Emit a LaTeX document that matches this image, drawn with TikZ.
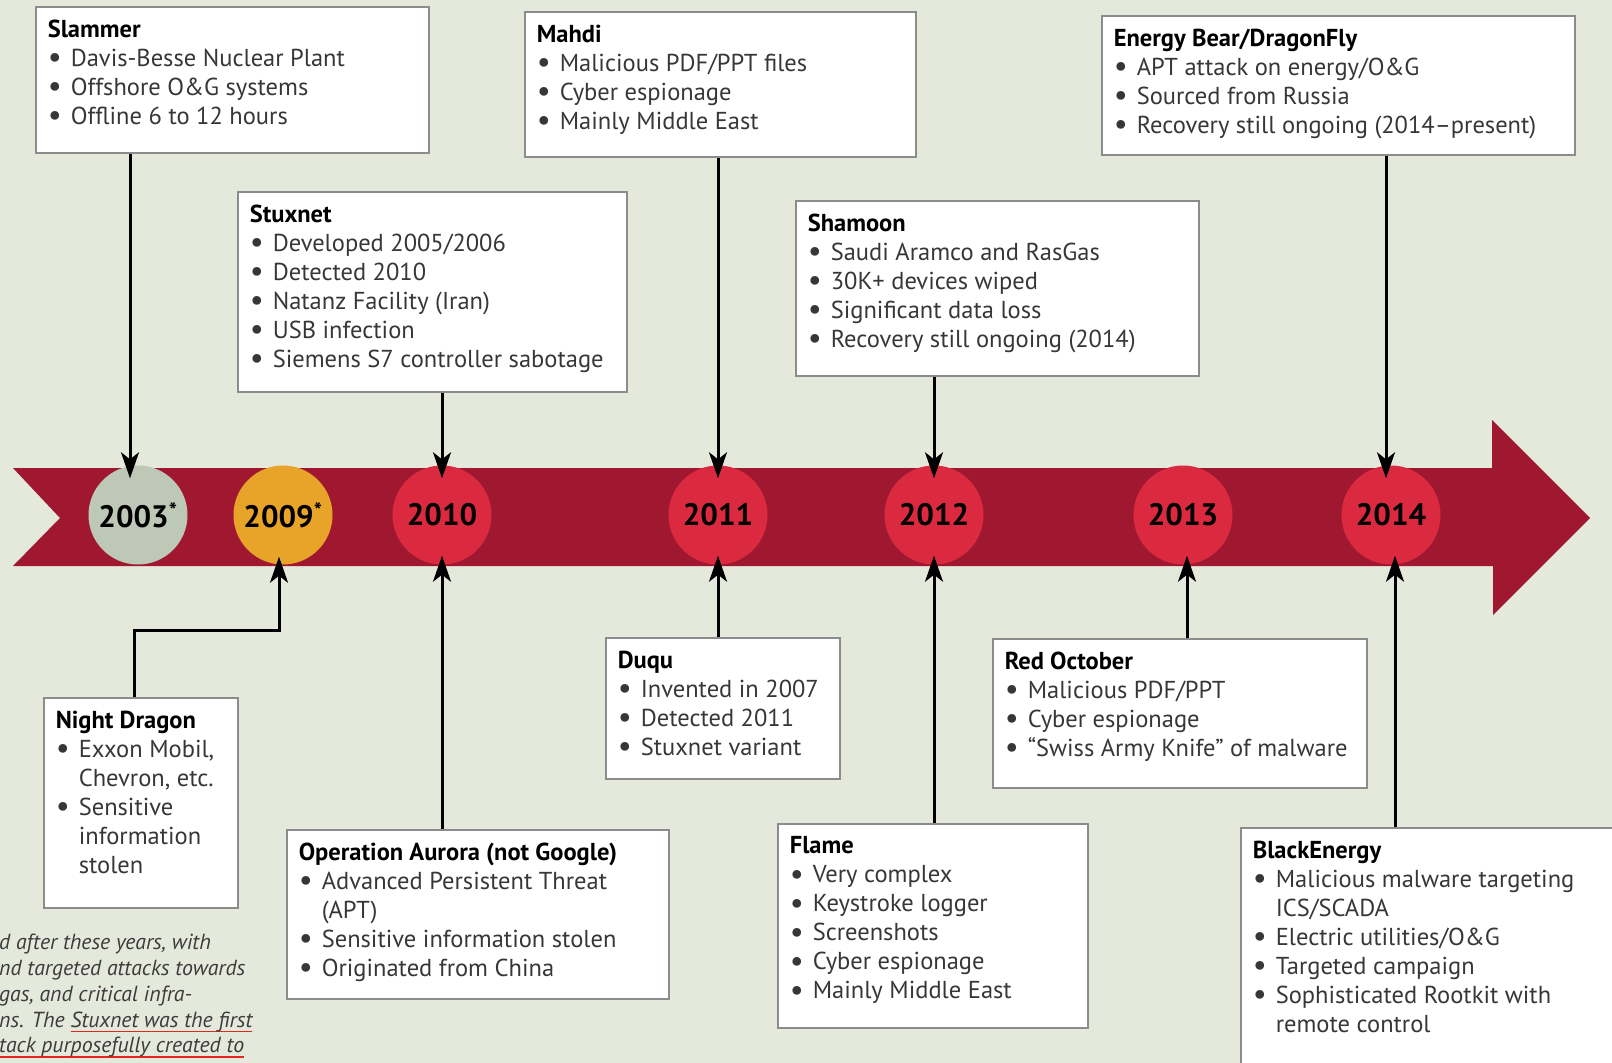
\documentclass[tikz,border=0pt]{standalone}
\usepackage{fontspec}
\setmainfont{PT Sans}
\usetikzlibrary{arrows.meta}

\newcommand{\evtext}[3]{\parbox[c][#2][t]{#1}{\raggedright\fontsize{24.5}{29}\selectfont #3}}
\newcommand{\evtitle}[1]{\noindent{\bfseries\color{black}#1}\par}
\newcommand{\bul}[1]{\noindent\hangindent=23pt\hangafter=1\makebox[23pt][l]{\raisebox{-1.5pt}{\fontsize{31}{29}\selectfont\textbullet}}#1\par}
\newcommand{\redul}[1]{\setbox0\hbox{#1}\rlap{\color{rgb, 255:red, 228; green, 38; blue, 30}\rule[-5pt]{\wd0}{1.6pt}}\box0}

\begin{document}
\begin{tikzpicture}[x=1pt,y=1pt,yscale=-1,xscale=1,
  evbox/.style={draw={rgb, 255:red, 140; green, 140; blue, 140}, line width=1.6pt, fill=white, anchor=north west, inner xsep=12pt, inner ysep=13pt, text={rgb, 255:red, 55; green, 55; blue, 55}},
  year/.style={circle, minimum size=99pt, inner sep=0pt, text=black, font=\fontsize{31}{31}\selectfont\bfseries},
  arr/.style={line width=3pt, -{Stealth[length=26pt,width=18pt,inset=7pt]}}]
\clip (0,0) rectangle (1612,1063);
\fill[color={rgb, 255:red, 229; green, 233; blue, 220}] (0,0) rectangle (1612,1063);

%Shape: Timeline Arrow
\fill[color={rgb, 255:red, 160; green, 24; blue, 48}] (13,468) -- (1492,468) -- (1492,420) -- (1590,518) -- (1493,615) -- (1493,566) -- (13,566) -- (60,518) -- cycle;

%Shape: Circle
\node[year, fill={rgb, 255:red, 190; green, 200; blue, 183}] (y2003) at (138,515) {2003\textsuperscript{*}};
\node[year, fill={rgb, 255:red, 232; green, 164; blue, 40}] (y2009) at (283,515) {2009\textsuperscript{*}};
\node[year, fill={rgb, 255:red, 219; green, 42; blue, 63}] (y2010) at (442,515) {2010};
\node[year, fill={rgb, 255:red, 219; green, 42; blue, 63}] (y2011) at (718,515) {2011};
\node[year, fill={rgb, 255:red, 219; green, 42; blue, 63}] (y2012) at (934,515) {2012};
\node[year, fill={rgb, 255:red, 219; green, 42; blue, 63}] (y2013) at (1183,515) {2013};
\node[year, fill={rgb, 255:red, 219; green, 42; blue, 63}] (y2014) at (1391,515) {2014};

% Text Node
\node[evbox] (slammer) at (35,6) {\evtext{369pt}{120pt}{\evtitle{Slammer}\bul{Davis-Besse Nuclear Plant}\bul{Offshore O\&G systems}\bul{Offline 6 to 12 hours}}};
% Text Node
\node[evbox] (stuxnet) at (237,191) {\evtext{365pt}{174pt}{\evtitle{Stuxnet}\bul{Developed 2005/2006}\bul{Detected 2010}\bul{Natanz Facility (Iran)}\bul{USB infection}\bul{Siemens S7 controller sabotage}}};
% Text Node
\node[evbox] (mahdi) at (524,11) {\evtext{367pt}{119pt}{\evtitle{Mahdi}\bul{Malicious PDF/PPT files}\bul{Cyber espionage}\bul{Mainly Middle East}}};
% Text Node
\node[evbox] (shamoon) at (795,200) {\evtext{379pt}{149pt}{\evtitle{Shamoon}\bul{Saudi Aramco and RasGas}\bul{30K+ devices wiped}\bul{Significant data loss}\bul{Recovery still ongoing (2014)}}};
% Text Node
\node[evbox] (energybear) at (1101,15) {\evtext{449pt}{113pt}{\evtitle{Energy Bear/DragonFly}\bul{APT attack on energy/O\&G}\bul{Sourced from Russia}\bul{Recovery still ongoing (2014--present)}}};
% Text Node
\node[evbox] (nightdragon) at (43,697) {\evtext{170pt}{184pt}{\evtitle{Night Dragon}\bul{Exxon Mobil,\newline Chevron, etc.}\bul{Sensitive\newline information\newline stolen}}};
% Text Node
\node[evbox] (aurora) at (286,829) {\evtext{358pt}{143pt}{\evtitle{Operation Aurora (not Google)}\bul{Advanced Persistent Threat\newline (APT)}\bul{Sensitive information stolen}\bul{Originated from China}}};
% Text Node
\node[evbox] (duqu) at (605,637) {\evtext{210pt}{115pt}{\evtitle{Duqu}\bul{Invented in 2007}\bul{Detected 2011}\bul{Stuxnet variant}}};
% Text Node
\node[evbox] (flame) at (777,823) {\evtext{286pt}{178pt}{\evtitle{Flame}\bul{Very complex}\bul{Keystroke logger}\bul{Screenshots}\bul{Cyber espionage}\bul{Mainly Middle East}}};
% Text Node
\node[evbox] (redoctober) at (992,638) {\evtext{350pt}{123pt}{\evtitle{Red October}\bul{Malicious PDF/PPT}\bul{Cyber espionage}\bul{``Swiss Army Knife'' of malware}}};
% Text Node
\node[evbox] (blackenergy) at (1240,827) {\evtext{366pt}{224pt}{\evtitle{BlackEnergy}\bul{Malicious malware targeting\newline ICS/SCADA}\bul{Electric utilities/O\&G}\bul{Targeted campaign}\bul{Sophisticated Rootkit with\newline remote control}}};

% Text Node
\node[anchor=north west, inner sep=0pt, align=left, text={rgb, 255:red, 60; green, 60; blue, 60}, font=\fontsize{21.8}{25.8}\selectfont\itshape] (note) at (-1,934) {d after these years, with\\nd targeted attacks towards\\gas, and critical infra-\\ns. The \redul{Stuxnet was the first}\\\redul{tack purposefully created to}};

%Straight Lines
\draw[arr] ([xshift=-8pt]y2003.north |- slammer.south) -- ([xshift=-8pt,yshift=13pt]y2003.north);
\draw[arr] (y2010.north |- stuxnet.south) -- ([yshift=13pt]y2010.north);
\draw[arr] (y2011.north |- mahdi.south) -- ([yshift=13pt]y2011.north);
\draw[arr] (y2012.north |- shamoon.south) -- ([yshift=13pt]y2012.north);
\draw[arr] ([xshift=-5pt]y2014.north |- energybear.south) -- ([xshift=-5pt,yshift=13pt]y2014.north);
\draw[arr] ([xshift=-6pt]nightdragon.north) -- ++(0,-67) -| ([xshift=-4pt,yshift=-8pt]y2009.south);
\draw[arr] (y2010.south |- aurora.north) -- ([yshift=-9pt]y2010.south);
\draw[arr] (y2011.south |- duqu.north) -- ([yshift=-9pt]y2011.south);
\draw[arr] (y2012.south |- flame.north) -- ([yshift=-9pt]y2012.south);
\draw[arr] ([xshift=4pt]y2013.south |- redoctober.north) -- ([xshift=4pt,yshift=-9pt]y2013.south);
\draw[arr] ([xshift=4pt]y2014.south |- blackenergy.north) -- ([xshift=4pt,yshift=-9pt]y2014.south);

\end{tikzpicture}
\end{document}
